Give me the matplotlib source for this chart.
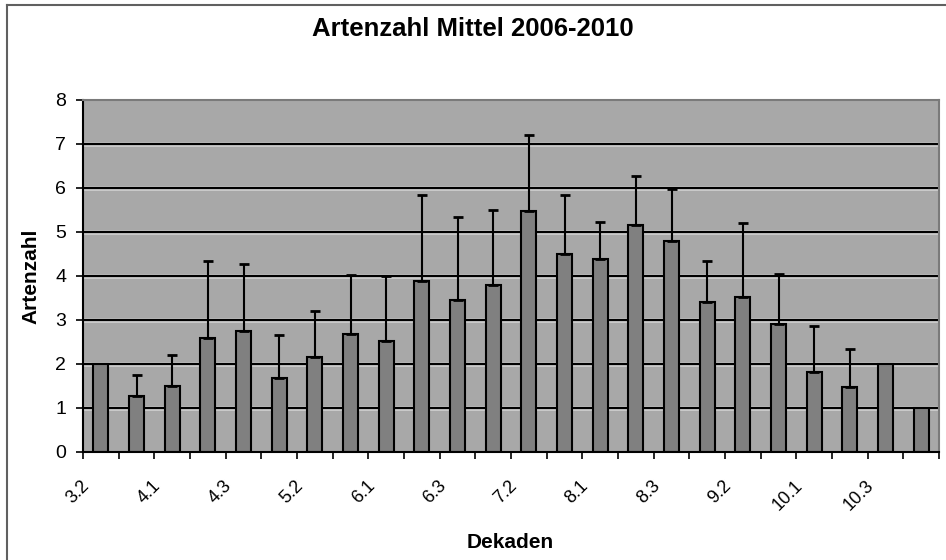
import numpy as np
import matplotlib.pyplot as plt
import matplotlib.transforms as mtransforms
from matplotlib.lines import Line2D
from matplotlib import patheffects

plt.rcParams['font.family'] = ['Liberation Sans', 'DejaVu Sans']

# Dekaden (month.decade), every other one is labelled
dekaden = ['3.2', '3.3', '4.1', '4.2', '4.3', '5.1', '5.2', '5.3',
           '6.1', '6.2', '6.3', '7.1', '7.2', '7.3', '8.1', '8.2',
           '8.3', '9.1', '9.2', '9.3', '10.1', '10.2', '10.3', '11.1']
artenzahl = [2.0, 1.27, 1.5, 2.58, 2.76, 1.69, 2.17, 2.68,
             2.53, 3.89, 3.45, 3.79, 5.48, 4.49, 4.38, 5.16,
             4.8, 3.42, 3.52, 2.92, 1.82, 1.48, 2.0, 1.0]
stdabw = [0.0, 0.49, 0.7, 1.76, 1.52, 0.98, 1.04, 1.34,
          1.46, 1.94, 1.9, 1.71, 1.72, 1.34, 0.85, 1.11,
          1.17, 0.92, 1.68, 1.13, 1.04, 0.86, 0.0, 0.0]
yticks = [0, 1, 2, 3, 4, 5, 6, 7, 8]

W, H = 946, 560
fig = plt.figure(figsize=(W / 100, H / 100), dpi=100)
ax = fig.add_axes([83 / W, 1 - 452 / H, (939 - 83) / W, (452 - 100) / H])
ax.set_facecolor('#a8a8a8')

x = np.arange(len(dekaden))
vals = np.array(artenzahl)
errs = np.array(stdabw)

# horizontal gridlines, black with a light halo like the Excel export
for yv in yticks[1:-1]:
    ax.axhline(yv, color='black', lw=1.6, zorder=1,
               path_effects=[patheffects.withStroke(linewidth=3.4, foreground='#cfcfcf')])

ax.bar(x, vals, width=0.42, color='#808080', edgecolor='black', linewidth=1.5, zorder=2)

has_err = errs > 0
ax.errorbar(x[has_err], vals[has_err], yerr=[np.zeros(has_err.sum()), errs[has_err]],
            fmt='none', ecolor='black', elinewidth=1.5, capsize=3.5, capthick=2, zorder=3)

ax.set_xlim(-0.5, len(dekaden) - 0.5)
ax.set_ylim(0, 8)
ax.set_yticks(yticks)
ax.tick_params(axis='y', direction='out', length=5, width=1.2, labelsize=14, pad=7)

# labels at every other category, tick marks at category boundaries
ax.set_xticks(x[::2])
ax.set_xticklabels(dekaden[::2], rotation=45, ha='right', va='top')
ax.set_xticks(np.arange(len(dekaden) + 1) - 0.5, minor=True)
ax.tick_params(axis='x', which='major', length=0, labelsize=13, pad=18)
ax.tick_params(axis='x', which='minor', direction='out', length=5, width=1.2)
shift = mtransforms.ScaledTranslation(-8 / 100, 0, fig.dpi_scale_trans)
for lbl in ax.get_xticklabels():
    lbl.set_transform(lbl.get_transform() + shift)

for side in ['left', 'bottom']:
    ax.spines[side].set_color('black')
    ax.spines[side].set_linewidth(1.5)
for side in ['top', 'right']:
    ax.spines[side].set_color('#7a7a7a')
    ax.spines[side].set_linewidth(1.5)

fig.text(473 / W, 1 - 29 / H, 'Artenzahl Mittel 2006-2010', ha='center', va='center',
         fontsize=18.5, fontweight='bold')
fig.text(31 / W, 1 - 276 / H, 'Artenzahl', ha='center', va='center', rotation=90,
         fontsize=15, fontweight='bold')
fig.text(510 / W, 1 - 542 / H, 'Dekaden', ha='center', va='center',
         fontsize=15, fontweight='bold')

# chart frame, cut off at the right and bottom in the original
fig.add_artist(Line2D([7 / W, 7 / W], [0, 1 - 5 / H], color='#606060', lw=1.5))
fig.add_artist(Line2D([7 / W, 1], [1 - 5 / H, 1 - 5 / H], color='#606060', lw=1.5))

fig.savefig('out.png', dpi=100)
